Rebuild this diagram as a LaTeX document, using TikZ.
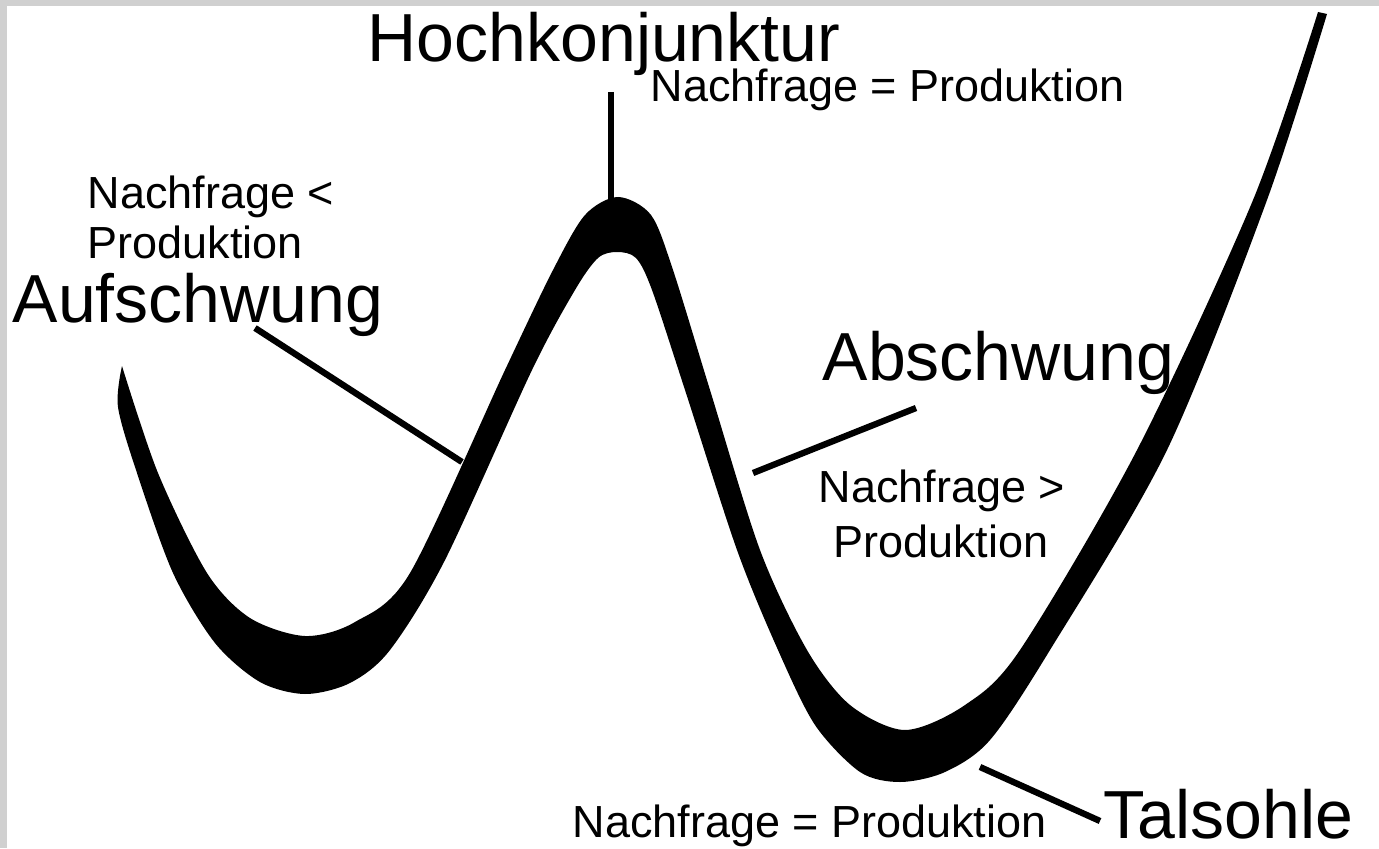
\documentclass[tikz,border=0pt]{standalone}
\usepackage{fontspec}
\setmainfont{Liberation Sans}
\definecolor{frameGray}{RGB}{208,208,208}

\begin{document}
\begin{tikzpicture}[x=0.1mm,y=-0.1mm,
    phase/.style={inner sep=0pt,anchor=base west,font=\fontsize{19.35}{23}\selectfont},
    cond/.style={inner sep=0pt,anchor=base west,font=\fontsize{12.8}{15}\selectfont},
    conn/.style={line width=1.8pt,draw=black}
  ]
  \useasboundingbox (0,0) rectangle (1379,848);
  \fill[white] (0,0) rectangle (1379,848);
  \fill[frameGray] (0,0) rectangle (1379,6);
  \fill[frameGray] (0,0) rectangle (7,848);

  % konjunkturkurve (oberer und unterer rand)
  \fill[black] plot[smooth] coordinates {
      (122,366) (158,473) (207,573) (250,618) (305,636) (355,622) (410,573)
      (505,370) (553,270) (585,215) (618,197) (651,215) (673,270) (710,390)
      (760,550) (807,650) (850,705) (905,730) (965,705) (1020,650) (1137,450)
      (1253,200) (1318,12)}
    -- plot[smooth] coordinates {
      (1327,14) (1267,200) (1167,450) (1050,650) (990,740) (945,772) (900,782)
      (860,772) (815,725) (778,650) (737,550) (685,390) (652,290) (636,258)
      (617,252) (598,258) (575,290) (532,370) (445,560) (390,650) (350,683)
      (305,694) (260,682) (215,643) (173,573) (137,473) (118,407) (122,366)}
    -- cycle;

  % phasen
  \node[phase] (hoch) at (367,62)  {Hochkonjunktur};
  \node[phase] (auf)  at (12,322)  {Aufschwung};
  \node[phase] (ab)   at (822,380) {Abschwung};
  \node[phase] (tal)  at (1103,838) {Talsohle};

  % nachfrage / produktion
  \node[cond] (hochC)  at (650,102) {Nachfrage = Produktion};
  \node[cond] (aufC1)  at (87,208)  {Nachfrage <};
  \node[cond] (aufC2)  at (87,258)  {Produktion};
  \node[cond,anchor=base] (abC1) at (942,502) {Nachfrage >};
  \node[cond,anchor=base] (abC2) at (941,557) {Produktion};
  \node[cond] (talC)   at (572,837) {Nachfrage = Produktion};

  % verbindungslinien
  \coordinate (hochTop) at (611,92);
  \coordinate (hochPt)  at (611,205);
  \coordinate (aufTop)  at (255,328);
  \coordinate (aufPt)   at (462,462);
  \coordinate (abTop)   at (916,408);
  \coordinate (abPt)    at (753,473);
  \coordinate (talTop)  at (1100,821);
  \coordinate (talPt)   at (980,767);
  \draw[conn] (hochTop) -- (hochPt);
  \draw[conn] (aufTop) -- (aufPt);
  \draw[conn] (abTop) -- (abPt);
  \draw[conn] (talTop) -- (talPt);
\end{tikzpicture}
\end{document}
